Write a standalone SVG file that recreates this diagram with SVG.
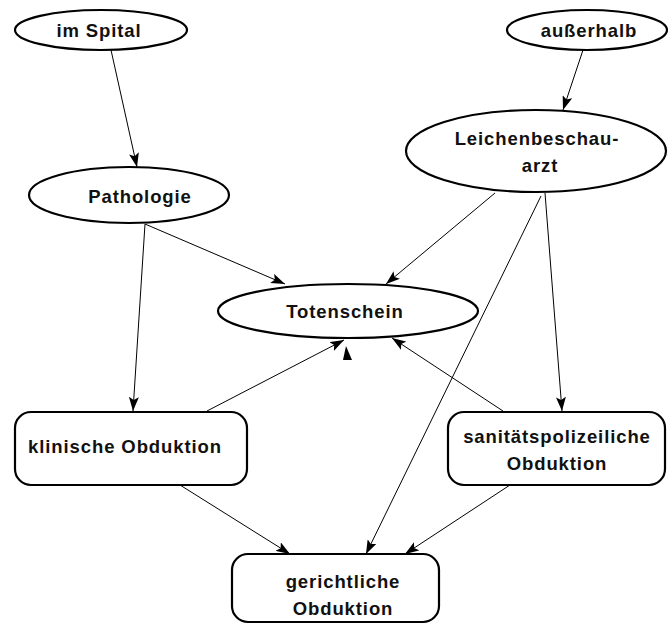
<svg xmlns="http://www.w3.org/2000/svg" width="668" height="626" viewBox="0 0 668 626">
  <style>
    .shape { fill: #ffffff; stroke: #000000; stroke-width: 2.2; }
    .label { font-family: "Liberation Sans", Arial, sans-serif; font-weight: bold; font-size: 18.5px; letter-spacing: 0.9px; fill: #111111; text-anchor: middle; }
    .edge { fill: none; stroke: #000000; stroke-width: 1; marker-end: url(#head); }
  </style>
  <defs>
    <marker id="head" viewBox="0 0 14 10" refX="14" refY="5" markerWidth="14" markerHeight="10" markerUnits="userSpaceOnUse" orient="auto">
      <path d="M0,0 L14,5 L0,10 L3,5 Z" fill="#000000"/>
    </marker>
  </defs>
  <rect width="668" height="626" fill="#ffffff"/>

  <g id="connectors">
    <line class="edge" x1="111" y1="50" x2="137" y2="167"/>
    <line class="edge" x1="583" y1="50" x2="563" y2="110"/>
    <line class="edge" x1="145" y1="224" x2="285" y2="284"/>
    <line class="edge" x1="145" y1="224" x2="133" y2="411"/>
    <line class="edge" x1="495" y1="193" x2="386" y2="284"/>
    <line class="edge" x1="545" y1="193" x2="562" y2="411"/>
    <line class="edge" x1="541" y1="196" x2="366" y2="554"/>
    <line class="edge" x1="207" y1="411" x2="344" y2="340"/>
    <line class="edge" x1="503" y1="411" x2="392" y2="338"/>
    <line class="edge" x1="180" y1="485" x2="290" y2="554"/>
    <line class="edge" x1="510" y1="485" x2="405" y2="554"/>
    <path d="M346,346 L352,360 L343,360 Z" fill="#000000"/>
  </g>

  <g id="im-spital">
    <ellipse class="shape" cx="101" cy="30" rx="86" ry="20"/>
    <text class="label" x="99" y="37">im Spital</text>
  </g>

  <g id="ausserhalb">
    <ellipse class="shape" cx="587" cy="30" rx="80" ry="20"/>
    <text class="label" x="589" y="37">außerhalb</text>
  </g>

  <g id="leichenbeschauarzt">
    <ellipse class="shape" cx="536" cy="151" rx="130" ry="41"/>
    <text class="label" x="537" y="145">Leichenbeschau-</text>
    <text class="label" x="540" y="172">arzt</text>
  </g>

  <g id="pathologie">
    <ellipse class="shape" cx="129" cy="195" rx="100" ry="28"/>
    <text class="label" x="140" y="203">Pathologie</text>
  </g>

  <g id="totenschein">
    <ellipse class="shape" cx="348" cy="311" rx="130" ry="27"/>
    <text class="label" x="345" y="318">Totenschein</text>
  </g>

  <g id="klinische-obduktion">
    <rect class="shape" x="15" y="412" width="232" height="73" rx="16" ry="16"/>
    <text class="label" x="125" y="453">klinische Obduktion</text>
  </g>

  <g id="sanitaetspolizeiliche-obduktion">
    <rect class="shape" x="448" y="412" width="217" height="73" rx="16" ry="16"/>
    <text class="label" x="557" y="443">sanitätspolizeiliche</text>
    <text class="label" x="557" y="470">Obduktion</text>
  </g>

  <g id="gerichtliche-obduktion">
    <rect class="shape" x="232" y="554" width="207" height="68" rx="16" ry="16"/>
    <text class="label" x="343" y="588">gerichtliche</text>
    <text class="label" x="343" y="615">Obduktion</text>
  </g>
</svg>
